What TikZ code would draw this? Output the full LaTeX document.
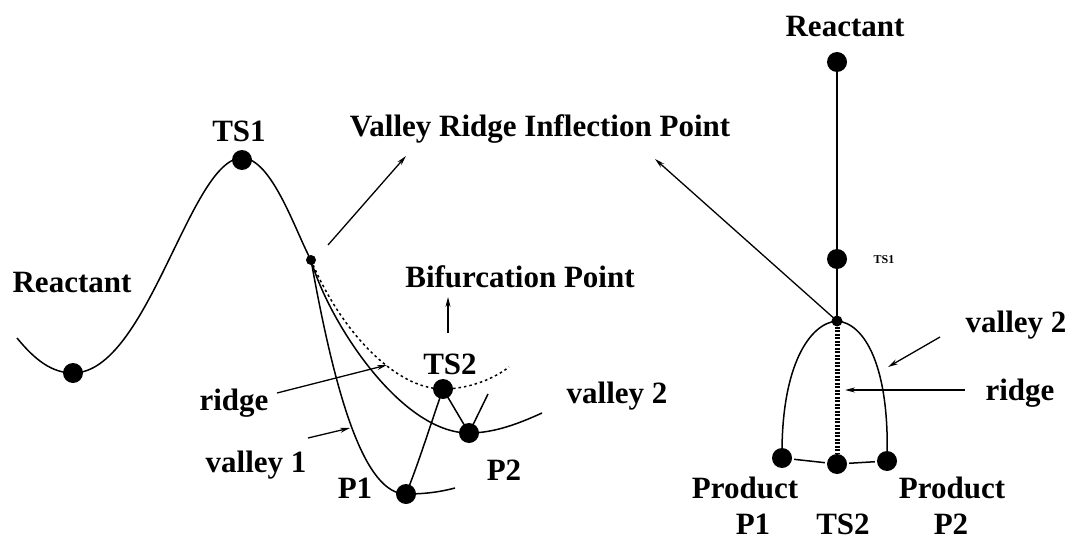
\documentclass[tikz,border=0pt]{standalone}
\usepackage{fontspec}
\setmainfont{Liberation Serif}
\usetikzlibrary{arrows.meta}
\tikzset{
  lbl/.style={font=\fontsize{31}{36}\selectfont\bfseries, inner sep=0pt, anchor=base},
  smalllbl/.style={font=\fontsize{12}{14}\selectfont\bfseries, inner sep=0pt, anchor=base},
  bigdot/.style={circle, fill=black, inner sep=0pt, minimum size=20pt},
  tinydot/.style={circle, fill=black, inner sep=0pt, minimum size=11pt},
  curve/.style={line width=1.5pt},
  ptr/.style={line width=1.3pt, -{Stealth[length=10pt,width=5pt]}},
  ridgeline/.style={line width=1.5pt, dash pattern=on 2.5pt off 3pt},
  ridgebar/.style={line width=5pt, dash pattern=on 2pt off 1.5pt},
}
\begin{document}
\begin{tikzpicture}[x=1pt,y=-1pt]
\useasboundingbox (0,0) rectangle (1070,540);
% ---------- left picture ----------
\coordinate (start) at (17,338);
\coordinate (R) at (73,373);
\coordinate (T1) at (242,160);
\coordinate (V) at (311,260);
\coordinate (T2) at (443,389);
\coordinate (P2) at (469,433);
\coordinate (P1) at (406,494);
\coordinate (v2end) at (542,413);
\coordinate (v1end) at (455,488);
\coordinate (tick) at (488,394);
\coordinate (rdend) at (509,367);

\draw[curve] (start) .. controls (35,360) and (52,373) .. (R)
  .. controls (148,373) and (190,158) .. (242,158)
  .. controls (272,158) and (296,233) .. (V);
\draw[curve] (V) .. controls (328,320) and (400,433) .. (P2)
  .. controls (495,433) and (520,423) .. (v2end);
\draw[curve] (V) .. controls (336,400) and (365,494) .. (P1)
  .. controls (425,494) and (440,492) .. (v1end);
\draw[curve] (P1) .. controls (418,465) and (432,420) .. (T2) -- (P2) -- (tick);
\draw[ridgeline] (V) .. controls (340,330) and (395,389) .. (T2)
  .. controls (470,389) and (495,378) .. (rdend);

\node[bigdot] (nR) at (R) {};
\node[bigdot] (nT1) at (T1) {};
\node[circle, fill=black, inner sep=0pt, minimum size=10pt] (nV) at (V) {};
\node[bigdot] (nT2) at (T2) {};
\node[bigdot] (nP2) at (P2) {};
\node[bigdot] (nP1) at (P1) {};

\node[lbl] (lReact) at (72,292) {Reactant};
\node[lbl] (lTS1) at (239,142) {TS1};
\node[lbl] (lVRI) at (540,137) {Valley Ridge Inflection Point};
\node[lbl] (lBif) at (520,287) {Bifurcation Point};
\node[lbl] (lTS2) at (450,374) {TS2};
\node[lbl] (lval2) at (617,403) {valley 2};
\node[lbl] (lridge) at (234,410) {ridge};
\node[lbl] (lval1) at (256,472) {valley 1};
\node[lbl] (lP1) at (355,498) {P1};
\node[lbl] (lP2) at (504,480) {P2};

\coordinate (a1s) at (328,245); \coordinate (a1e) at (406,156);
\coordinate (a2s) at (448,333); \coordinate (a2e) at (448,297);
\coordinate (a3s) at (277,393); \coordinate (a3e) at (387,365);
\coordinate (a4s) at (308,438); \coordinate (a4e) at (350,428);
\draw[ptr] (a1s) -- (a1e);
\draw[ptr] (a2s) -- (a2e);
\draw[ptr] (a3s) -- (a3e);
\draw[ptr] (a4s) -- (a4e);

% ---------- right picture ----------
\node[bigdot] (RR) at (837,62) {};
\node[bigdot] (RT1) at (837,259) {};
\node[tinydot] (RV) at (837,321) {};
\node[bigdot] (RP1) at (782,458) {};
\node[bigdot] (RT2) at (837,464) {};
\node[bigdot] (RP2) at (887,461) {};

\draw[curve] (RR.center) -- (RV.center);
\draw[curve] (RP1.center) .. controls (781,365) and (810,323) .. (RV.center)
  .. controls (864,323) and (890,365) .. (RP2.center);
\draw[ridgebar] (RV.south) -- (RT2.north);
\draw[curve, shorten <=2pt, shorten >=2pt] (RP1) -- (RT2);
\draw[curve, shorten <=2pt, shorten >=2pt] (RT2) -- (RP2);

\node[lbl] (rReact) at (845,37) {Reactant};
\node[smalllbl] (rTS1) at (884,263) {TS1};
\node[lbl] (rval2) at (1016,332) {valley 2};
\node[lbl] (rridge) at (1020,400) {ridge};
\node[lbl] (rProd1) at (745,498) {Product};
\node[lbl] (rProd2) at (952,498) {Product};
\node[lbl] (rP1) at (753,534) {P1};
\node[lbl] (rTS2) at (843,534) {TS2};
\node[lbl] (rP2) at (951,534) {P2};

\coordinate (b1e) at (655,159);
\coordinate (b2s) at (940,337); \coordinate (b2e) at (888,367);
\coordinate (b3s) at (965,390); \coordinate (b3e) at (845,390);
\draw[ptr] (RV.center) -- (b1e);
\draw[ptr] (b2s) -- (b2e);
\draw[ptr] (b3s) -- (b3e);
\end{tikzpicture}
\end{document}
